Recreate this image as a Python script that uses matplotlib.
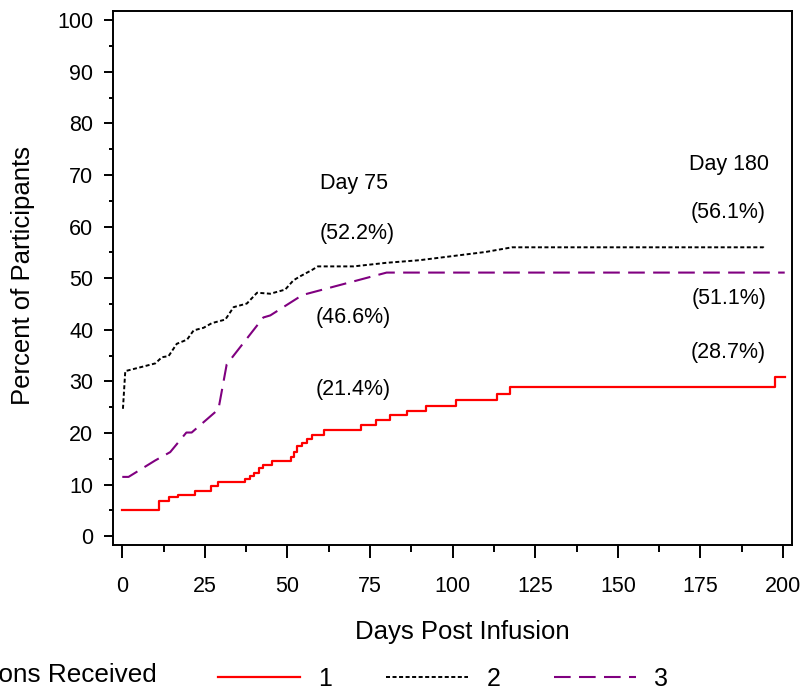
import matplotlib
matplotlib.use("Agg")
import matplotlib.pyplot as plt
from matplotlib.ticker import MultipleLocator

plt.rcParams['font.family'] = ['Liberation Sans', 'DejaVu Sans']
plt.rcParams['lines.scale_dashes'] = False

# ---- data ----
red_days = [0, 11.2, 14, 17, 22, 27, 29, 37, 38.7, 40, 41.5, 42.5, 45.3, 51, 52, 53,
            54.5, 56, 57.4, 61.2, 72.3, 76.8, 80.9, 86.1, 91.9, 101, 113.4, 117.2, 197.6, 200.5]
red_vals = [5.0, 6.8, 7.6, 7.9, 8.7, 9.75, 10.5, 11.0, 11.6, 12.3, 13.2, 13.8, 14.6, 15.4, 16.3, 17.4,
            18.0, 18.9, 19.6, 20.5, 21.5, 22.5, 23.4, 24.3, 25.3, 26.4, 27.6, 28.9, 30.9, 30.9]

black_days = [0.2, 0.9, 6.4, 10, 12, 14, 16.5, 19.6, 21.6, 24.6, 27.1, 31.2, 33.7, 37.7, 40.8,
              44.8, 49.3, 51.8, 53.9, 57.4, 59.2, 70, 80, 90, 100, 110, 118, 194, 194.5]
black_vals = [24.7, 32.0, 32.9, 33.5, 34.7, 34.9, 37.3, 38.1, 39.9, 40.4, 41.3, 42.0, 44.4, 45.1, 47.2,
              47.0, 47.8, 49.6, 50.4, 51.6, 52.3, 52.3, 53.0, 53.5, 54.3, 55.1, 56.0, 56.0, 55.7]

purple_days = [0, 1.9, 10, 14.5, 19.4, 21, 29.1, 31.6, 42.7, 44.8, 53.9, 54.8, 80, 200.5]
purple_vals = [11.5, 11.5, 14.7, 16.3, 20.1, 20.1, 24.6, 33.3, 42.4, 42.8, 46.5, 46.8, 51.1, 51.1]

series_labels = ['1', '2', '3']
legend_title = 'Infusions Received'

ann_texts = ['Day 75', '(52.2%)', '(46.6%)', '(21.4%)',
             'Day 180', '(56.1%)', '(51.1%)', '(28.7%)']
ann_x = [70, 71, 70, 70, 183.5, 183.5, 183.5, 183.5]
ann_y = [68.4, 58.6, 42.4, 28.4, 72.1, 62.8, 46.1, 35.7]

x_ticks = [0, 25, 50, 75, 100, 125, 150, 175, 200]
y_ticks = [0, 10, 20, 30, 40, 50, 60, 70, 80, 90, 100]

# ---- figure ----
W, H = 805, 692
fig = plt.figure(figsize=(W / 100, H / 100), dpi=100)
ax = fig.add_axes([112.7 / W, 1 - 545 / H, (792 - 112.7) / W, (545 - 11) / H])

ax.plot(red_days, red_vals, color='#FF0000', lw=1.6, drawstyle='steps-post', label=series_labels[0])
ax.plot(black_days, black_vals, color='black', lw=1.4, linestyle=(0, (2.9, 1.8)), label=series_labels[1])
ax.plot(purple_days, purple_vals, color='#800080', lw=1.5, linestyle=(0, (12, 6)), label=series_labels[2])

ax.set_xlim(-2.9, 202.7)
ax.set_ylim(-1.7, 101.8)
ax.set_xticks(x_ticks)
ax.set_yticks(y_ticks)
ax.xaxis.set_minor_locator(MultipleLocator(12.5))
ax.yaxis.set_minor_locator(MultipleLocator(5))

for s in ax.spines.values():
    s.set_linewidth(1.4)
    s.set_color('black')

ax.tick_params(axis='x', which='major', direction='out', length=9, width=1.4, pad=13, labelsize=15.5)
ax.tick_params(axis='x', which='minor', direction='out', length=5, width=1.4)
ax.tick_params(axis='y', which='major', direction='out', length=6.5, width=1.4, pad=7.5, labelsize=15.5)
ax.tick_params(axis='y', which='minor', direction='out', length=2.8, width=1.4)

ax.set_xlabel('Days Post Infusion', fontsize=18.5)
ax.xaxis.label.set_va('center')
ax.xaxis.set_label_coords(0.5145, -0.163)
ax.set_ylabel('Percent of Participants', fontsize=18.5)
ax.yaxis.label.set_va('center')
ax.yaxis.set_label_coords(-0.1320, 0.5047)

for t, x, y in zip(ann_texts, ann_x, ann_y):
    ax.text(x, y, t, ha='center', va='center', fontsize=15.5)

# legend row
leg = fig.legend(loc='center left', bbox_to_anchor=(218.4 / W, 1 - 679 / H),
                 bbox_transform=fig.transFigure, ncol=3, frameon=False,
                 fontsize=18, handlelength=3.28, handletextpad=0.72,
                 columnspacing=2.16, borderpad=0, borderaxespad=0)
fig.text(156.7 / W, 1 - 675 / H, legend_title, ha='right', va='center', fontsize=18.8)

fig.savefig('out.png', dpi=100)
